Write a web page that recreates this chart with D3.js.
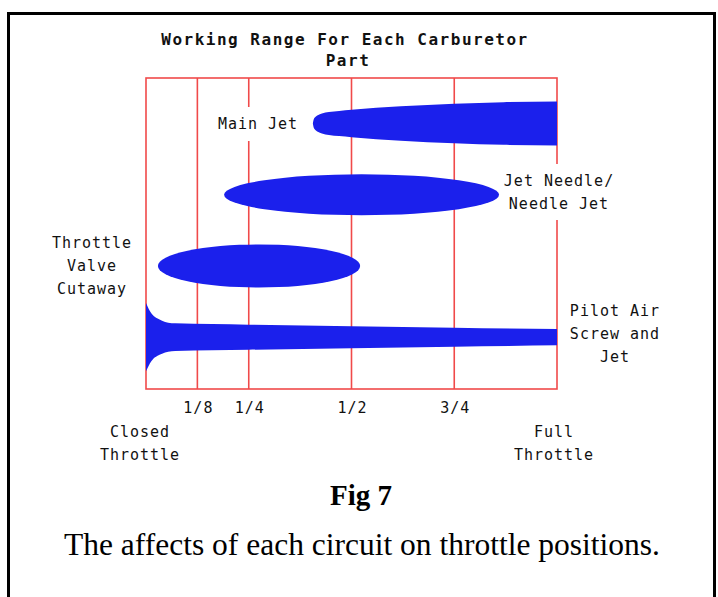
<!DOCTYPE html>
<html>
<head>
<meta charset="utf-8">
<script src="https://cdn.jsdelivr.net/npm/d3@7"></script>
<style>
  body { margin: 0; background: #fff; }
  svg { display: block; }
  .lbl { font-family: 'DejaVu Sans Mono', monospace; font-size: 15px; letter-spacing: 1px; fill: #111; }
</style>
</head>
<body>
<svg></svg>
<script>
const width = 718
const height = 597

// carburetor parts, top to bottom
const parts = ['Main Jet', 'Jet Needle', 'Throttle Valve', 'Pilot Air']
const partLabels = [
  ['Main Jet'],
  ['Jet Needle/', 'Needle Jet'],
  ['Throttle', 'Valve', 'Cutaway'],
  ['Pilot Air', 'Screw and', 'Jet']
]

// throttle opening ticks
const tickValues = [1 / 8, 1 / 4, 1 / 2, 3 / 4]
const tickLabels = ['1/8', '1/4', '1/2', '3/4']

// ellipse parts: throttle range and relative spread
const needleRange = [0.19, 0.859]
const needleSpread = 0.93
const valveRange = [0.029, 0.521]
const valveSpread = 0.98

// main jet profile (throttle position, relative spread)
const mainJetPos = [0.406, 0.408, 0.412, 0.418, 0.428, 0.445, 0.47, 0.5, 0.62, 0.75, 0.87, 1.0]
const mainJetSpread = [0, 0.18, 0.29, 0.37, 0.45, 0.52, 0.57, 0.62, 0.78, 0.9, 0.97, 1.0]

// pilot air profile
const pilotPos = [0, 0.0036, 0.0097, 0.017, 0.027, 0.039, 0.054, 0.071, 0.25, 0.5, 0.75, 1.0]
const pilotSpread = [1.55, 1.41, 1.18, 1.0, 0.86, 0.75, 0.66, 0.63, 0.57, 0.5, 0.43, 0.37]

const plot = { left: 146, right: 557, top: 78, bottom: 389 }

const svg = d3.select('svg')
  .attr('width', width)
  .attr('height', height)

const x = d3.scaleLinear().domain([0, 1]).range([plot.left, plot.right])
const y = d3.scalePoint().domain(parts).range([123.5, 337.2])
const spread = d3.scaleLinear().domain([0, 1]).range([0, 22])

const blue = '#1b20ec'
const red = '#f04a4a'

// outer frame
svg.append('rect')
  .attr('x', 8.5).attr('y', 13.5)
  .attr('width', 706).attr('height', 600)
  .attr('fill', 'none')
  .attr('stroke', '#000')
  .attr('stroke-width', 3)

// title
const title = svg.append('text')
  .attr('class', 'lbl')
  .attr('text-anchor', 'middle')
  .style('font-weight', 'bold')
  .style('font-size', '16px')
  .style('letter-spacing', '1.5px')
title.append('tspan').attr('x', 345).attr('y', 45).text('Working Range For Each Carburetor')
title.append('tspan').attr('x', 348).attr('y', 66).text('Part')

// grid: frame + throttle lines
const grid = svg.append('g')
  .attr('stroke', red)
  .attr('stroke-width', 1.6)
  .attr('fill', 'none')

grid.append('rect')
  .attr('x', x(0)).attr('y', plot.top)
  .attr('width', x(1) - x(0)).attr('height', plot.bottom - plot.top)

grid.selectAll('line')
  .data(tickValues)
  .enter().append('line')
  .attr('x1', (d) => x(d)).attr('x2', (d) => x(d))
  .attr('y1', plot.top).attr('y2', plot.bottom)

// bands
const g = svg.append('g').attr('fill', blue)

const mainJet = mainJetPos.map((p, i) => ({ p: p, s: mainJetSpread[i] }))
const pilot = pilotPos.map((p, i) => ({ p: p, s: pilotSpread[i] }))

const band = (part) => d3.area()
  .x((d) => x(d.p))
  .y0((d) => y(part) - spread(d.s))
  .y1((d) => y(part) + spread(d.s))
  .curve(d3.curveMonotoneX)

g.append('path').attr('d', band('Main Jet')(mainJet))
g.append('path').attr('d', band('Pilot Air')(pilot))

const ellipses = [
  { part: 'Jet Needle', range: needleRange, s: needleSpread },
  { part: 'Throttle Valve', range: valveRange, s: valveSpread }
]

g.selectAll('ellipse')
  .data(ellipses)
  .enter().append('ellipse')
  .attr('cx', (d) => (x(d.range[0]) + x(d.range[1])) / 2)
  .attr('cy', (d) => y(d.part))
  .attr('rx', (d) => (x(d.range[1]) - x(d.range[0])) / 2)
  .attr('ry', (d) => spread(d.s))

// part labels (white boxes break the grid lines behind them)
const labelPos = [
  { cx: 258, dy: 0, box: [214, 107, 88, 34] },
  { cx: 559, dy: -14, box: [503, 164, 112, 56] },
  { cx: 92, dy: -23, box: null },
  { cx: 615, dy: -26, box: null }
]
const lineH = 23

partLabels.forEach((lines, i) => {
  const pos = labelPos[i]
  if (pos.box) {
    svg.append('rect')
      .attr('x', pos.box[0]).attr('y', pos.box[1])
      .attr('width', pos.box[2]).attr('height', pos.box[3])
      .attr('fill', '#fff')
  }
  const t = svg.append('text')
    .attr('class', 'lbl')
    .attr('text-anchor', 'middle')
  lines.forEach((line, j) => {
    t.append('tspan')
      .attr('x', pos.cx)
      .attr('y', y(parts[i]) + pos.dy + j * lineH + 5)
      .text(line)
  })
})

// tick labels
svg.append('g')
  .selectAll('text')
  .data(tickValues)
  .enter().append('text')
  .attr('class', 'lbl')
  .attr('text-anchor', 'middle')
  .attr('x', (d) => x(d) + 1)
  .attr('y', 413)
  .text((d, i) => tickLabels[i])

const ends = [
  { p: 0, dx: -6, lines: ['Closed', 'Throttle'] },
  { p: 1, dx: -3, lines: ['Full', 'Throttle'] }
]
ends.forEach((e) => {
  const t = svg.append('text').attr('class', 'lbl').attr('text-anchor', 'middle')
  e.lines.forEach((line, j) => {
    t.append('tspan').attr('x', x(e.p) + e.dx).attr('y', 437 + j * 23).text(line)
  })
})

// caption
svg.append('text')
  .attr('x', 361).attr('y', 505)
  .attr('text-anchor', 'middle')
  .style('font-family', "'Liberation Serif', serif")
  .style('font-weight', 'bold')
  .style('font-size', '29px')
  .text('Fig 7')

svg.append('text')
  .attr('x', 362).attr('y', 555)
  .attr('text-anchor', 'middle')
  .style('font-family', "'Liberation Serif', serif")
  .style('font-size', '31.5px')
  .text('The affects of each circuit on throttle positions.')
</script>
</body>
</html>
